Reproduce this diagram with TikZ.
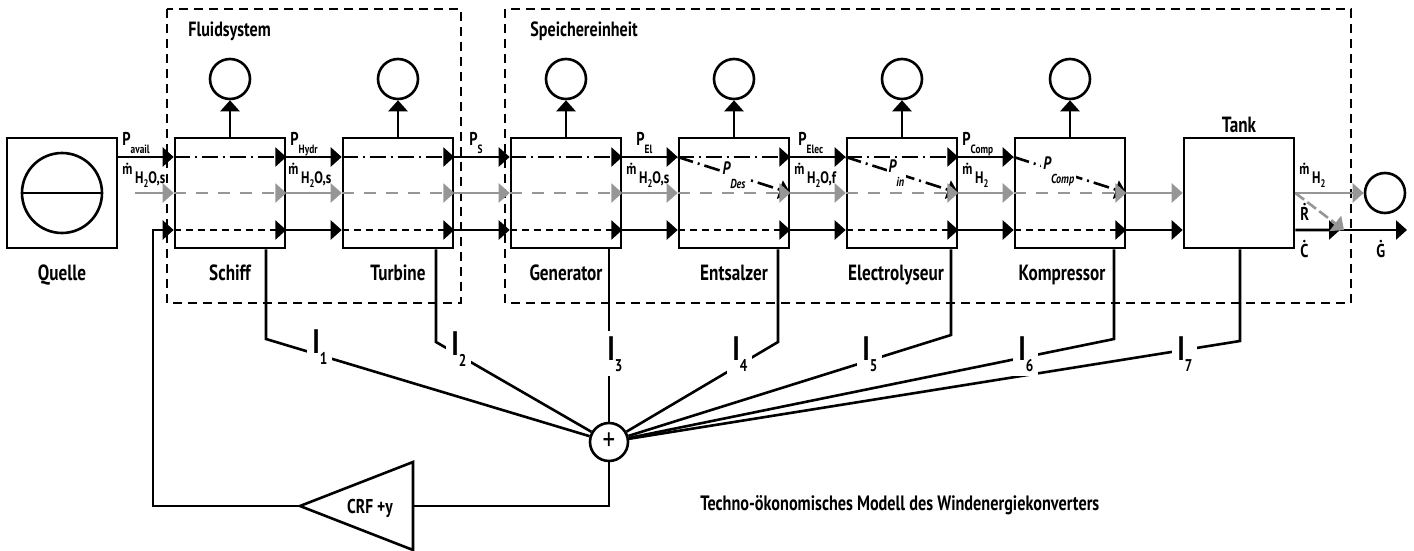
\documentclass[tikz,border=0pt]{standalone}
\usepackage{fontspec}
\setmainfont{PT Sans}[FakeStretch=0.78]
\usetikzlibrary{arrows.meta}

\definecolor{flowgray}{RGB}{150,150,150}

\newcommand{\dotacc}[1]{\accent"02D9 #1}
\newcommand{\psub}[1]{\raisebox{-4pt}{\fontsize{6}{6}\selectfont #1}}
\newcommand{\msub}[1]{\raisebox{-4.5pt}{\fontsize{8.3}{8}\selectfont #1}}
\newcommand{\hsub}[1]{\raisebox{-2pt}{\fontsize{5.5}{5}\selectfont #1}}
\newcommand{\isub}[1]{\raisebox{-5.5pt}{\fontsize{8.5}{8}\selectfont #1}}
\newcommand{\dsub}[1]{\raisebox{-7pt}{\fontsize{6.5}{6}\selectfont #1}}

\tikzset{
    wire/.style={line width=1.3pt},
    arrowtip/.style={-{Triangle[length=5.5pt,width=9.5pt]}},
    parr/.style={wire, arrowtip},
    marr/.style={wire, arrowtip, flowgray},
    carr/.style={wire, arrowtip},
    pinner/.style={parr, dash pattern=on 8pt off 2.5pt on 1pt off 2.5pt},
    minner/.style={marr, dash pattern=on 6pt off 5pt},
    cinner/.style={carr, dash pattern=on 3.5pt off 2.5pt},
    rarr/.style={marr, dash pattern=on 5.5pt off 2pt},
    group/.style={wire, dash pattern=on 4.5pt off 3pt},
    blk/.style={draw, wire, minimum size=55pt, inner sep=0pt},
    circ/.style={draw, wire, circle, minimum size=20pt, inner sep=0pt},
    sumc/.style={draw, wire, circle, fill=white, minimum size=19pt, inner sep=0pt, font=\fontsize{16}{16}\selectfont},
    boxlab/.style={anchor=base, font=\bfseries\fontsize{11}{12}\selectfont},
    grouplab/.style={anchor=base west, inner sep=0pt, font=\bfseries\fontsize{10.3}{11}\selectfont},
    plab/.style={anchor=base west, inner sep=0pt, font=\bfseries\fontsize{9.3}{10}\selectfont},
    mlab/.style={anchor=base west, inner sep=0pt, font=\bfseries\fontsize{8}{9}\selectfont},
    dlab/.style={fill=white, inner sep=1pt, font=\bfseries\itshape\fontsize{9}{9}\selectfont},
    ilab/.style={anchor=base west, fill=white, inner sep=2.5pt, font=\bfseries\fontsize{17}{18}\selectfont},
    crflab/.style={anchor=base, font=\bfseries\fontsize{10}{11}\selectfont},
    titlelab/.style={anchor=base west, inner sep=0pt, font=\bfseries\fontsize{10.4}{11}\selectfont}
}

\begin{document}
\begin{tikzpicture}[x=50pt, y=-50pt]
    \useasboundingbox (0,0) rectangle (14.14,5.51);

    % Fluidsystem und Speichereinheit
    \draw[group] (1.67,0.09) rectangle (4.61,3.03);
    \draw[group] (5.05,0.09) rectangle (13.51,3.03);
    \node[grouplab] at (1.88,0.36) {Fluidsystem};
    \node[grouplab] at (5.30,0.36) {Speichereinheit};

    \node[blk] (quelle) at (0.62,1.93) {};
    \draw[wire] (quelle.center) circle (20pt);
    \draw[wire] ([xshift=-20pt]quelle.center) -- ([xshift=20pt]quelle.center);
    \node[boxlab] at (0.62,2.80) {Quelle};

    \foreach \n/\nm/\txt/\dx in {0/schiff/Schiff/0, 1/turbine/Turbine/0, 2/generator/Generator/0,
            3/entsalzer/Entsalzer/0, 4/electro/Electrolyseur/-0.06, 5/kompressor/Kompressor/-0.08} {
        \node[blk] (\nm) at ({2.30+1.68*\n},1.93) {};
        \node[circ] (c\nm) at ({2.30+1.68*\n},0.79) {};
        \node[boxlab] at ({2.30+1.68*\n+\dx},2.80) {\txt};
        \draw[parr] (\nm.north) -- (c\nm);
    }
    \node[blk] (tank) at (12.39,1.93) {};
    \node[boxlab] at (12.39,1.32) {Tank};

    \draw[pinner] ([yshift=18pt]entsalzer.west) -- node[dlab] {P\dsub{Des}} (entsalzer.east);
    \draw[pinner] ([yshift=18pt]electro.west) -- node[dlab, pos=0.45] {P\dsub{in}} (electro.east);
    \draw[pinner] ([yshift=18pt]kompressor.west) -- node[dlab, pos=0.4] {P\dsub{Comp}} (kompressor.east);

    \foreach \nm in {schiff,turbine,generator,entsalzer,electro}
        \draw[pinner] ([yshift=18pt]\nm.west) -- ([yshift=18pt]\nm.east);
    \foreach \nm in {schiff,turbine,generator,entsalzer,electro,kompressor} {
        \draw[minner] (\nm.west) -- (\nm.east);
        \draw[cinner] ([yshift=-18.5pt]\nm.west) -- ([yshift=-18.5pt]\nm.east);
    }

    \foreach \a/\b in {schiff/turbine, turbine/generator, generator/entsalzer,
            entsalzer/electro, electro/kompressor} {
        \draw[parr] ([yshift=18pt]\a.east) -- ([yshift=18pt]\b.west);
        \draw[marr] (\a.east) -- (\b.west);
        \draw[carr] ([yshift=-18.5pt]\a.east) -- ([yshift=-18.5pt]\b.west);
    }
    \draw[marr] (kompressor.east) -- (tank.west);
    \draw[carr] ([yshift=-18.5pt]kompressor.east) -- ([yshift=-18.5pt]tank.west);

    \coordinate (win) at (1.35,1.93);
    \draw[parr] ([yshift=18pt]quelle.east) -- ([yshift=18pt]schiff.west);
    \draw[marr] (win) -- (schiff.west);

    \node[plab] at (1.22,1.45) {P\psub{avail}};
    \node[plab] at (2.90,1.45) {P\psub{Hydr}};
    \node[plab] at (4.69,1.45) {P\psub{S}};
    \node[plab] at (6.36,1.45) {P\psub{El}};
    \node[plab] at (7.98,1.45) {P\psub{Elec}};
    \node[plab] at (9.62,1.45) {P\psub{Comp}};
    \node[mlab] at (1.22,1.74) {\dotacc{m}\,\msub{H\hsub{2}O,s}};
    \node[mlab] at (2.88,1.74) {\dotacc{m}\,\msub{H\hsub{2}O,s}};
    \node[mlab] at (6.26,1.74) {\dotacc{m}\,\msub{H\hsub{2}O,s}};
    \node[mlab] at (7.94,1.74) {\dotacc{m}\,\msub{H\hsub{2}O,f}};
    \node[mlab] at (9.62,1.74) {\dotacc{m}\,\msub{H\hsub{2}}};
    \node[mlab] at (12.99,1.74) {\dotacc{m}\,\msub{H\hsub{2}}};
    \node[plab] at (13.00,2.20) {\dotacc{R}};
    \node[plab] at (13.00,2.57) {\dotacc{C}};
    \node[plab] at (13.76,2.57) {\dotacc{G}};

    % Ausgang
    \node[circ] (out) at (13.85,1.93) {};
    \coordinate (junc) at (13.40,2.30);
    \coordinate (gout) at (14.07,2.30);
    \draw[marr] (tank.east) -- (out);
    \draw[carr] ([yshift=-18.5pt]tank.east) -- (junc);
    \draw[carr] (junc) -- (gout);
    \draw[rarr] (tank.east) -- ([xshift=2pt]junc);

    % Kosten
    \node[sumc] (sum) at (6.09,4.42) {+};
    \coordinate (d1) at (2.66,3.39);
    \coordinate (d2) at (4.36,3.42);
    \coordinate (d4) at (7.78,3.42);
    \coordinate (d5) at (9.51,3.35);
    \coordinate (d6) at (11.14,3.39);
    \coordinate (d7) at (12.40,3.41);
    \draw[wire] (d1 |- schiff.south) -- (d1) -- (sum);
    \draw[wire] (d2 |- turbine.south) -- (d2) -- (sum);
    \draw[wire] (sum |- generator.south) -- (sum);
    \draw[wire] (d4 |- entsalzer.south) -- (d4) -- (sum);
    \draw[wire] (d5 |- electro.south) -- (d5) -- (sum);
    \draw[wire] (d6 |- kompressor.south) -- (d6) -- (sum);
    \draw[wire] (d7 |- tank.south) -- (d7) -- (sum);
    \node[ilab] at (3.07,3.53) {I\isub{1}};
    \node[ilab] at (4.46,3.55) {I\isub{2}};
    \node[ilab] at (6.02,3.60) {I\isub{3}};
    \node[ilab] at (7.27,3.60) {I\isub{4}};
    \node[ilab] at (8.57,3.60) {I\isub{5}};
    \node[ilab] at (10.13,3.60) {I\isub{6}};
    \node[ilab] at (11.72,3.60) {I\isub{7}};

    \coordinate (crftip) at (3.00,5.06);
    \coordinate (crfin) at (4.13,5.06);
    \draw[wire] (crftip) -- (4.13,4.62) -- (4.13,5.50) -- cycle;
    \node[crflab] (crf) at (3.70,5.13) {CRF +y};
    \draw[wire] (sum) |- (crfin);
    \draw[carr] (crftip) -- (1.53,5.06) |- ([yshift=-18.5pt]schiff.west);

    \node[titlelab] at (7.00,5.10) {Techno-ökonomisches Modell des Windenergiekonverters};
\end{tikzpicture}
\end{document}
